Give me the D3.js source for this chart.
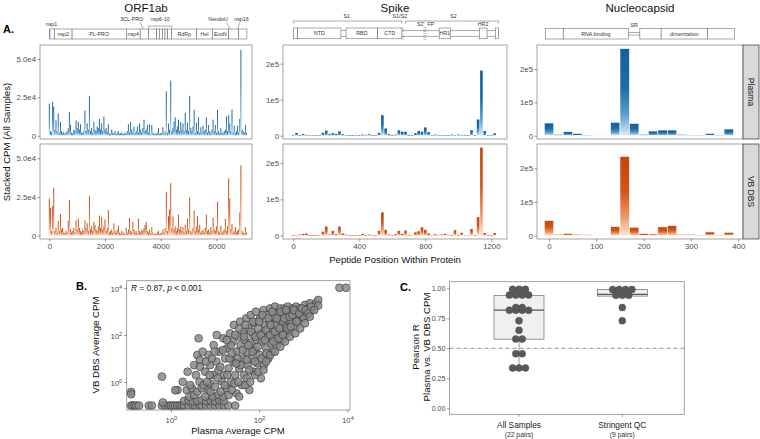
<!DOCTYPE html>
<html><head><meta charset="utf-8">
<script src="https://cdn.jsdelivr.net/npm/d3@7"></script>
<style>body{margin:0;background:#fff}svg{font-family:"Liberation Sans",Arial,Helvetica,sans-serif}</style>
</head><body><svg id="c" width="760" height="439"></svg>
<script>
// ================= DATA =================
// Stacked CPM per peptide (thousands of CPM), peptides tiled along each protein
const orfStep = 40, spikeStep = 20, nStep = 20;
const orf1abPlasma = [21,3,2,22,19,4,10,3,14.5,2,9,3,1.5,2.5,1,2,3,5,15.5,7,2,1.5,4,3,10,5,9,4,7.5,2,1.5,3,16.5,3,8,4,26,3,5,2,9,4,3,6,5,11,4,8,3,12.5,4,5,2.5,7.5,1.5,1,4,2,1.5,3,1,2,3,1,1.5,2,1,1.5,2,1,3,7.5,2,9,4,2,6,1.5,3,6,2,8,4,2,5,10.5,3,4,7,2,7.5,1,7,2,1,1.5,1,2,5,1,1.5,2,5.5,1.5,3,29,2,8,4,36,3,5,9,12,4,6,10.5,3,9,4,8,3,15,4,8.5,3,26,5,3,6,17,2,8.5,3,12,2,5.5,2,6.5,3,4,12,2,7,3,1.5,4,10.5,3,7,2,17,3,1.5,5,2,1.5,3,4,12.5,3,13.5,8,3,17,2,6.5,1.5,3,6.5,2,11,56,4,3,2,7,2];
const orf1abVBDBS = [24,18,3,19,31,3,5,2,9.5,3,14,4,5,2,1.5,3,2,9.5,23,4,2,3,5,2,10,4,11,5,3,2,4,3,10,5,8,3,25.5,4,6,3,9,7,4,3,6,13,5,12,4,6,10.5,3,5,16.5,2,3,4,2,8,3,2,4,6.5,2,1,3,1.5,2,1,5,2,4,11.5,3,2,9,4,2,3,1.5,11,3,2,4,3,5,7,9,3,2,4,1.5,5.5,2,1,1.5,1,2,3,1,1.5,2,4,2,5,28,3,12.5,17,34,5,12.5,4,6,3,5,13.5,4,6,3,5.5,2,7,3,11,4,24.5,3,2,5,16,3,6,12.5,4,7,2,3,4,2,5,13.5,3,4,2,5.5,3,11.5,4,3,6,22,3,2,6.5,2,3,4,11,3,6,37,24,4,7.5,2,3,5.5,2,3,4,15,45.5,3,2,1.5,5.5,2];
const spikePlasma = [0.5,7.5,1,4.5,2,0.5,0.5,0.5,0.5,8,14,4,7,5,12,4,2,1,1,0.5,1,3,2,4,1,1,8,57,20,4,1,3,15,11,11,1,1,7,13,11,23,10,2,3,2,2,1,1,3,2,3,2,2,1,15,1,45,181,13,0.5,0.5,6.5];
const spikeVBDBS = [0.5,2,3,5,6,1,1,1,2,11,25,3,13,4,25,6,3,1,1,1,1,5,1,3,1,1,13,64,16,3,1,4,13,5,14,1,2,9,12,23,16,6,2,4,2,3,5,2,1,15,1,8,2,2,18,1,51,242,7,1,1,7];
const nPlasma = [38,4,12,7,2,1,1,40,261,37,4,14,17,17,4,2,2,7,2,20];
const nVBDBS = [45,4,7,4,3,1,1,27,235,25,6,5,26,30,4,4,2,11,2,10];

const orfYTicks = [0,25,50], orfYLabels = ["0","2.5e4","5.0e4"], orfXTicks = [0,2000,4000,6000];
const spikeYTicks = [0,100,200], spikeYLabels = ["0","1e5","2e5"], spikeXTicks = [0,400,800,1200];
const nYTicks = [0,100,200], nYLabels = ["0","1e5","2e5"], nXTicks = [0,100,200,300,400];

// Protein domain maps (amino-acid coordinates)
const orfDomains = [[0,180,""],[180,818,"nsp2"],[818,2763,"PL-PRO"],[2763,3263,"nsp4"],[3263,3569,""],[3569,3855,""],[3855,3951,""],[3951,4059,""],[4059,4155,""],[4155,4251,""],[4251,4395,""],[4395,5290,"RdRp"],[5290,5850,"Hel"],[5850,6440,"ExoN"],[6440,6800,""],[6800,7096,""]];
const spikeDomains = [[0,27,""],[27,289,"NTD"],[320,512,"RBD"],[512,658,"CTD"],[884,951,"HR1"],[1127,1174,""],[1224,1244,""]];
const nDomains = [[-8,30,""],[30,168,"RNA binding"],[192,237,""],[237,335,"dimerization"],[335,392,""]];

// Panel B: average CPM (log10) per peptide, plasma vs VB DBS
const scatterLogCPM = [[-0.9,-1],[-0.87,-1],[-0.82,-1],[-0.78,-1],[-0.72,-1],[-0.5,-1],[-0.43,-1],[-0.2,-1],[-0.13,-1],[-0.05,-1],[0,-1],[0.05,-1],[0.1,-1],[0.15,-1],[0.2,-1],[0.25,-1],[0.3,-1],[0.4,-1],[0.5,-1],[0.55,-1],[0.65,-1],[0.7,-1],[0.8,-1],[0.9,-1],[1.0,-1],[1.1,-1],[1.2,-1],[1.3,-1],[1.46,-1],
[-0.18,-0.87],[0.3,-0.8],[0.4,-0.78],[0.5,-0.83],[0.6,-0.8],[0.7,-0.76],[0.8,-0.82],[0.9,-0.79],[1.0,-0.81],[1.1,-0.77],[1.2,-0.8],
[-0.9,-0.42],[-0.9,-0.52],[-0.2,0.23],
[0.15,-0.34],[0.27,0.01],[0.36,-0.34],[0.42,-0.62],[0.48,-0.27],[0.53,-0.55],[0.6,-0.41],[0.65,0.01],[0.78,-0.62],[0.85,-0.34],[0.89,-0.06],[0.95,-0.62],[1.08,-0.55],[1.19,-0.62],[0.53,0.72],[0.6,1.15],[0.1,-0.35],
[0.38,0.44],[0.44,-0.13],[0.57,0.3],[0.63,1.86],[0.66,0.94],[0.66,0.65],[0.7,-0.27],[0.74,-0.13],[0.78,0.44],[0.82,0.01],[0.85,1.15],[0.89,0.72],[0.9,-0.41],[0.97,1.57],[0.97,0.3],[1.0,-0.2],[1.03,0.87],[1.04,2.0],[1.08,0.51],[1.1,1.29],[1.13,-0.41],[1.15,0.04],[1.19,1.86],[1.21,0.3],[1.23,1.0],[1.27,1.43],[1.27,-0.27],[1.31,0.58],[1.34,2.07],[1.36,0.01],[1.4,1.72],[1.42,0.87],[1.43,2.43],[1.46,0.3],[1.49,1.29],[1.49,-0.48],[1.53,1.93],[1.55,0.58],[1.57,2.57],[1.58,1.57],[1.61,-0.13],[1.63,1.0],[1.65,2.14],[1.66,0.3],[1.68,1.79],[1.71,2.71],[1.72,1.29],[1.74,0.72],[1.76,2.28],[1.78,-0.34],[1.8,1.65],[1.81,2.85],[1.83,1.0],[1.86,2.0],[1.87,0.44],[1.89,2.5],[1.91,1.36],[1.93,2.99],[1.95,1.79],[1.96,0.79],[1.98,2.28],[2.01,1.15],[2.02,2.71],[2.04,0.16],[2.06,1.72],[2.08,2.07],[2.1,3.06],[2.11,0.72],[2.14,2.43],[2.16,1.43],[2.17,2.85],[2.2,1.93],[2.21,1.0],[2.23,2.57],[2.25,3.13],[2.27,1.65],[2.29,2.21],[2.31,1.29],[2.32,2.78],[2.35,1.86],[2.36,3.21],[2.38,2.43],[2.4,1.57],[2.42,2.92],[2.44,2.07],[2.46,2.64],[2.48,3.13],[2.5,1.79],[2.51,2.28],[2.54,2.85],[2.55,2.57],[2.57,3.13],[2.59,2.0],[2.61,2.35],[2.63,2.85],[2.65,3.21],[2.66,2.64],[2.69,2.14],[2.7,2.99],[2.74,2.57],[2.76,3.13],[2.79,2.78],[2.82,2.35],[2.84,3.21],[2.87,2.92],[2.89,2.64],[2.93,3.13],[2.97,2.78],[3.0,2.99],[3.04,3.28],[3.08,2.85],[3.12,3.13],[3.15,3.35],[3.19,3.06],[3.23,3.21],[3.29,3.35],[3.34,3.49],[3.34,3.25],[3.82,4.01],[3.97,4.01],
[1.33,1.0],[1.36,1.57],[1.46,2.0],[1.51,1.0],[1.55,2.28],[1.58,0.72],[1.63,1.36],[1.66,1.93],[1.69,2.43],[1.72,0.94],[1.76,1.57],[1.78,0.51],[1.82,2.14],[1.85,1.29],[1.87,2.57],[1.91,0.87],[1.92,1.93],[1.97,1.5],[2.0,2.57],[2.04,2.0],[2.06,1.0],[2.08,2.85],[2.13,1.79],[2.16,2.21],[2.17,1.22],[2.21,2.71],[2.25,2.0],[2.26,2.43],[2.3,2.99],[2.32,1.72],[2.36,2.14],[2.4,2.71],[2.44,1.86],[2.46,2.28],[2.49,2.99],[2.54,2.0],[2.57,2.71],[2.61,3.06],[2.64,2.28],[2.69,2.78],[2.72,2.35],[2.76,2.85],[2.79,3.06],[2.85,2.57],[2.91,2.92],[2.97,3.13],[3.02,2.71],[3.06,3.06],[3.12,2.92],[3.18,3.21],[3.25,3.06],[0.72,1.29],[0.8,0.87],[0.88,0.3],[0.93,1.0],[0.99,1.29],[1.06,0.16],[1.12,0.65],[1.18,1.36],[1.22,-0.13],[1.28,0.3],[1.31,-0.55],[1.38,-0.34],[1.44,-0.06],[1.55,-0.62],[1.68,-0.13],[1.72,0.16],[1.8,0.01],[1.91,0.3],[1.98,0.44],[2.1,0.51],[2.16,0.87],[2.25,1.15],[2.36,1.29],[2.48,1.5],[2.59,1.72],[2.7,1.93],[2.82,2.07],[2.93,2.28],[3.04,2.5],[3.15,2.78],[1.27,1.79],[1.38,1.22],[1.48,0.79],[1.53,0.01]];
const logTicks = [0,2,4];

// Panel C: Pearson R per sample pair
const groupNames = ["All Samples","Stringent QC"];
const groupSub = ["(22 pairs)","(9 pairs)"];
const rAll = [0.33,0.33,0.35,0.45,0.46,0.575,0.58,0.65,0.73,0.815,0.815,0.82,0.82,0.84,0.84,0.94,0.94,0.945,0.95,0.99,0.99,0.995];
const rStringent = [0.73,0.84,0.935,0.94,0.95,0.985,0.99,0.99,0.995];
const rTicks = [0,0.25,0.5,0.75,1], rTickLabels = ["0.00","0.25","0.50","0.75","1.00"];

// ================= DRAWING =================
const svg = d3.select("#c");
const defs = svg.append("defs");
function grad(id, stops){
  const g = defs.append("linearGradient").attr("id",id).attr("x1",0).attr("y1",0).attr("x2",0).attr("y2",1);
  stops.forEach(([o,c])=>g.append("stop").attr("offset",o).attr("stop-color",c));
}
grad("gBlue", [[0,"#11609b"],[0.45,"#1d6da8"],[0.75,"#5c9dcb"],[1,"#dcebf6"]]);
grad("gOrange", [[0,"#c3440a"],[0.45,"#d2561a"],[0.75,"#eb9764"],[1,"#fde2d2"]]);

const TXT = "#4d4d4d", BORDER = "#8c8c8c";
function styleAxis(g, fs){
  g.select(".domain").remove();
  g.attr("font-family",null).attr("font-size",null);
  g.selectAll(".tick line").attr("stroke","#333").attr("stroke-width",0.5);
  g.selectAll(".tick text").attr("fill",TXT).style("font-size",(fs||7.8)+"px");
}

// ---------- Panel A ----------
const rowsA = [
  {key:"plasma", y0:45, y1:139, strip:"Plasma", fill:"url(#gBlue)"},
  {key:"dbs", y0:144, y1:239, strip:"VB DBS", fill:"url(#gOrange)"}
];
const colsA = [
  {title:"ORF1ab", x0:40, x1:252, xdom:[-334,7278], ydom:[-2.15,59.2], step:orfStep, barW:34, minW:0.9, stroke:null,
   data:{plasma:orf1abPlasma, dbs:orf1abVBDBS}, yt:orfYTicks, yl:orfYLabels, xt:orfXTicks},
  {title:"Spike", x0:283, x1:507, xdom:[-62,1295], ydom:[-9.2,252], step:spikeStep, barW:16, minW:0, stroke:null,
   data:{plasma:spikePlasma, dbs:spikeVBDBS}, yt:spikeYTicks, yl:spikeYLabels, xt:spikeXTicks},
  {title:"Nucleocapsid", x0:537, x1:743, xdom:[-25.4,410], ydom:[-9.9,272], step:nStep, barW:20, minW:0, stroke:"#fff",
   data:{plasma:nPlasma, dbs:nVBDBS}, yt:nYTicks, yl:nYLabels, xt:nXTicks}
];

colsA.forEach((c,ci)=>{
  const x = d3.scaleLinear().domain(c.xdom).range([c.x0,c.x1]);
  c.xs = x;
  svg.append("text").attr("x",(c.x0+c.x1)/2).attr("y",12).attr("text-anchor","middle")
    .style("font-size","11.5px").attr("fill","#111").text(c.title);
  rowsA.forEach((r,ri)=>{
    const y = d3.scaleLinear().domain(c.ydom).range([r.y1,r.y0]);
    const cid = `clip${ci}${ri}`;
    defs.append("clipPath").attr("id",cid).append("rect").attr("x",c.x0).attr("y",r.y0).attr("width",c.x1-c.x0).attr("height",r.y1-r.y0);
    const g = svg.append("g").attr("clip-path",`url(#${cid})`);
    const vals = c.data[r.key];
    g.selectAll("rect").data(vals).join("rect")
      .attr("x",(d,i)=>x(i*c.step - c.barW/2))
      .attr("width",Math.max(c.minW, x(c.barW)-x(0)))
      .attr("y",d=>y(d))
      .attr("height",d=>Math.max(0.6, y(0)-y(d)))
      .attr("fill",r.fill)
      .attr("stroke",c.stroke).attr("stroke-width",c.stroke?0.6:0);
    svg.append("rect").attr("x",c.x0).attr("y",r.y0).attr("width",c.x1-c.x0).attr("height",r.y1-r.y0)
      .attr("fill","none").attr("stroke",BORDER).attr("stroke-width",0.8);
    const ya = svg.append("g").attr("transform",`translate(${c.x0},0)`)
      .call(d3.axisLeft(y).tickValues(c.yt).tickFormat((d,i)=>c.yl[i]).tickSize(2.5).tickPadding(1.5));
    styleAxis(ya);
    if(ri===1){
      const xa = svg.append("g").attr("transform",`translate(0,${r.y1})`)
        .call(d3.axisBottom(x).tickValues(c.xt).tickFormat(d3.format("d")).tickSize(2.5).tickPadding(1.5));
      styleAxis(xa);
    }
    if(ci===2){
      svg.append("rect").attr("x",743).attr("y",r.y0).attr("width",16).attr("height",r.y1-r.y0)
        .attr("fill","#d9d9d9").attr("stroke","#333").attr("stroke-width",0.7);
      svg.append("text").attr("transform",`translate(748,${(r.y0+r.y1)/2}) rotate(90)`)
        .attr("text-anchor","middle").style("font-size","8.5px").attr("fill","#1a1a1a").text(r.strip);
    }
  });
});

// domain diagrams
const dg = svg.append("g").attr("stroke","#555").attr("stroke-width",0.5);
function boxes(xs, list, y0, y1){
  list.forEach(([s,e,l])=>{
    dg.append("rect").attr("x",xs(s)).attr("y",y0).attr("width",xs(e)-xs(s)).attr("height",y1-y0).attr("fill","#fff");
    if(l) svg.append("text").attr("x",(xs(s)+xs(e))/2).attr("y",(y0+y1)/2+2).attr("text-anchor","middle")
      .style("font-size","5.3px").attr("fill","#333").text(l);
  });
}
function lbl(xp,yp,t){ svg.append("text").attr("x",xp).attr("y",yp).attr("text-anchor","middle").style("font-size","5.3px").attr("fill","#333").text(t); }
function ln(a,b,c,d){ dg.append("line").attr("x1",a).attr("y1",b).attr("x2",c).attr("y2",d); }
// ORF1ab
const xo = colsA[0].xs;
boxes(xo, orfDomains, 29, 39);
dg.append("line").attr("x1",xo(20)).attr("x2",xo(20)).attr("y1",29.5).attr("y2",38.5).attr("stroke","#5566cc").attr("stroke-width",0.7);
lbl(xo(80),26.2,"nsp1");
lbl(xo(2958),21,"3CL-PRO"); ln(140,22.5,143.5,29);
ln(xo(3569),26,xo(4395),26); ln(xo(3569),26,xo(3569),28); ln(xo(4395),26,xo(4395),28);
lbl(xo(3980),21,"nsp6-10");
lbl(xo(6060),21,"NendoU"); ln(226.5,22.5,230.5,29);
lbl(xo(6900),21,"nsp16"); ln(239.5,22.5,238,29);
// Spike
const xsp = colsA[1].xs;
dg.append("rect").attr("x",xsp(0)).attr("y",30.8).attr("width",xsp(1244)-xsp(0)).attr("height",5.4).attr("fill","#fff");
boxes(xsp, spikeDomains, 28, 38.8);
ln(xsp(0),21,xsp(658),21); ln(xsp(0),21,xsp(0),23.5); ln(xsp(658),21,xsp(658),23.5);
ln(xsp(680),21,xsp(1244),21); ln(xsp(680),21,xsp(680),23.5); ln(xsp(1244),21,xsp(1244),23.5);
lbl(xsp(324),17.5,"S1"); lbl(xsp(645),17.5,"S1/S2"); lbl(xsp(971),17.5,"S2");
dg.append("line").attr("x1",xsp(665)).attr("x2",xsp(665)).attr("y1",27).attr("y2",40).attr("stroke-dasharray","1,1");
dg.append("line").attr("x1",xsp(792)).attr("x2",xsp(792)).attr("y1",27).attr("y2",40).attr("stroke-dasharray","1,1");
dg.append("line").attr("x1",xsp(800)).attr("x2",xsp(800)).attr("y1",27).attr("y2",40).attr("stroke-dasharray","1,1");
lbl(xsp(772),26,"S2'"); lbl(xsp(834),26,"FP"); lbl(xsp(1150),26,"HR2");
// Nucleocapsid
const xn = colsA[2].xs;
boxes(xn, nDomains, 28.3, 39);
ln(xn(168),32.5,xn(192),32.5); ln(xn(168),35,xn(192),35);
lbl(xn(180),27,"SR");

svg.append("text").attr("x",3).attr("y",33).style("font-size","11px").style("font-weight","bold").text("A.");
svg.append("text").attr("transform","translate(10,142) rotate(-90)").attr("text-anchor","middle")
  .style("font-size","9.6px").attr("fill","#111").text("Stacked CPM (All Samples)");
svg.append("text").attr("x",395).attr("y",263).attr("text-anchor","middle")
  .style("font-size","9.6px").attr("fill","#111").text("Peptide Position Within Protein");

// ---------- Panel B ----------
const bx = d3.scaleLinear().domain([-1.0,4.06]).range([126.7,350]);
const by = d3.scaleLinear().domain([-1.19,4.31]).range([410,280.7]);
svg.append("g").selectAll("circle").data(scatterLogCPM).join("circle")
  .attr("cx",d=>bx(d[0])).attr("cy",d=>by(d[1])).attr("r",3.9)
  .attr("fill","#8a8a8a").attr("fill-opacity",0.85).attr("stroke","#333").attr("stroke-width",0.6);
svg.append("rect").attr("x",126.7).attr("y",280.7).attr("width",350-126.7).attr("height",410-280.7)
  .attr("fill","none").attr("stroke",BORDER).attr("stroke-width",0.8);
function supLabels(g){
  g.selectAll(".tick text").each(function(d){
    const t = d3.select(this); t.text("10");
    t.append("tspan").attr("dy",-3).style("font-size","5.6px").text(d);
  });
}
const bya = svg.append("g").attr("transform","translate(126.7,0)")
  .call(d3.axisLeft(by).tickValues(logTicks).tickSize(2.5).tickPadding(2));
styleAxis(bya); supLabels(bya); bya.selectAll(".tick text").attr("dy","0.5em");
const bxa = svg.append("g").attr("transform","translate(0,410)")
  .call(d3.axisBottom(bx).tickValues(logTicks).tickSize(2.5).tickPadding(2));
styleAxis(bxa); supLabels(bxa); bxa.selectAll(".tick text").attr("dy","1.05em");
const rt = svg.append("text").attr("x",131).attr("y",290.5).style("font-size","8.3px").attr("fill","#111");
rt.append("tspan").style("font-style","italic").text("R");
rt.append("tspan").text(" = 0.87, ");
rt.append("tspan").style("font-style","italic").text("p");
rt.append("tspan").text(" < 0.001");
svg.append("text").attr("x",238).attr("y",433.5).attr("text-anchor","middle").style("font-size","9.6px").attr("fill","#111").text("Plasma Average CPM");
svg.append("text").attr("transform","translate(98.5,345) rotate(-90)").attr("text-anchor","middle").style("font-size","9.6px").attr("fill","#111").text("VB DBS Average CPM");
svg.append("text").attr("x",76).attr("y",290).style("font-size","11px").style("font-weight","bold").text("B.");

// ---------- Panel C ----------
const cx0 = 449.5, cx1 = 684.3, cy0 = 281.7, cy1 = 414.3;
const cy = d3.scaleLinear().domain([-0.05,1.055]).range([cy1,cy0]);
const cxs = d3.scalePoint().domain(groupNames).range([519,622.3]);
svg.append("line").attr("x1",cx0).attr("x2",cx1).attr("y1",cy(0.5)).attr("y2",cy(0.5))
  .attr("stroke","#777").attr("stroke-width",0.8).attr("stroke-dasharray","4,3");
[rAll, rStringent].forEach((vals,gi)=>{
  const s = vals.slice().sort(d3.ascending);
  const q1 = d3.quantile(s,0.25), med = d3.quantile(s,0.5), q3 = d3.quantile(s,0.75), iqr = q3-q1;
  const lo = d3.min(s.filter(v=>v>=q1-1.5*iqr)), hi = d3.max(s.filter(v=>v<=q3+1.5*iqr));
  const cxp = cxs(groupNames[gi]), bw = 25;
  svg.append("line").attr("x1",cxp).attr("x2",cxp).attr("y1",cy(hi)).attr("y2",cy(q3)).attr("stroke","#555").attr("stroke-width",0.6);
  svg.append("line").attr("x1",cxp).attr("x2",cxp).attr("y1",cy(q1)).attr("y2",cy(lo)).attr("stroke","#555").attr("stroke-width",0.6);
  svg.append("rect").attr("x",cxp-bw).attr("y",cy(q3)).attr("width",2*bw).attr("height",cy(q1)-cy(q3))
    .attr("fill","#efefef").attr("stroke","#555").attr("stroke-width",0.6);
  svg.append("line").attr("x1",cxp-bw).attr("x2",cxp+bw).attr("y1",cy(med)).attr("y2",cy(med)).attr("stroke","#555").attr("stroke-width",1.2);
  // dot-density bins
  const bins = []; let cur = null;
  s.forEach(v=>{ if(cur && v - cur[0] <= 0.02) cur.push(v); else { cur=[v]; bins.push(cur);} });
  const pts = [];
  bins.forEach(b=>{ const m = d3.mean(b); b.forEach((v,k)=>pts.push([cxp + (k-(b.length-1)/2)*6.4, cy(m)])); });
  svg.append("g").selectAll("circle").data(pts).join("circle").attr("cx",d=>d[0]).attr("cy",d=>d[1]).attr("r",3.5)
    .attr("fill","#595959").attr("stroke","#444").attr("stroke-width",0.4);
  svg.append("text").attr("x",cxp).attr("y",427.5).attr("text-anchor","middle").style("font-size","8.3px").attr("fill","#222").text(groupNames[gi]);
  svg.append("text").attr("x",cxp).attr("y",436.5).attr("text-anchor","middle").style("font-size","6.8px").attr("fill","#333").text(groupSub[gi]);
  svg.append("line").attr("x1",cxp).attr("x2",cxp).attr("y1",cy1).attr("y2",cy1+2.5).attr("stroke","#333").attr("stroke-width",0.5);
});
svg.append("rect").attr("x",cx0).attr("y",cy0).attr("width",cx1-cx0).attr("height",cy1-cy0)
  .attr("fill","none").attr("stroke",BORDER).attr("stroke-width",0.8);
const cya = svg.append("g").attr("transform",`translate(${cx0},0)`)
  .call(d3.axisLeft(cy).tickValues(rTicks).tickFormat((d,i)=>rTickLabels[i]).tickSize(2.5).tickPadding(1.5));
styleAxis(cya, 7.1);
svg.append("text").attr("transform","translate(418.5,347) rotate(-90)").attr("text-anchor","middle").style("font-size","9.6px").attr("fill","#111").text("Pearson R");
svg.append("text").attr("transform","translate(429.5,347) rotate(-90)").attr("text-anchor","middle").style("font-size","9.6px").attr("fill","#111").text("Plasma vs. VB DBS CPM");
svg.append("text").attr("x",400).attr("y",291).style("font-size","11px").style("font-weight","bold").text("C.");
</script></body></html>
